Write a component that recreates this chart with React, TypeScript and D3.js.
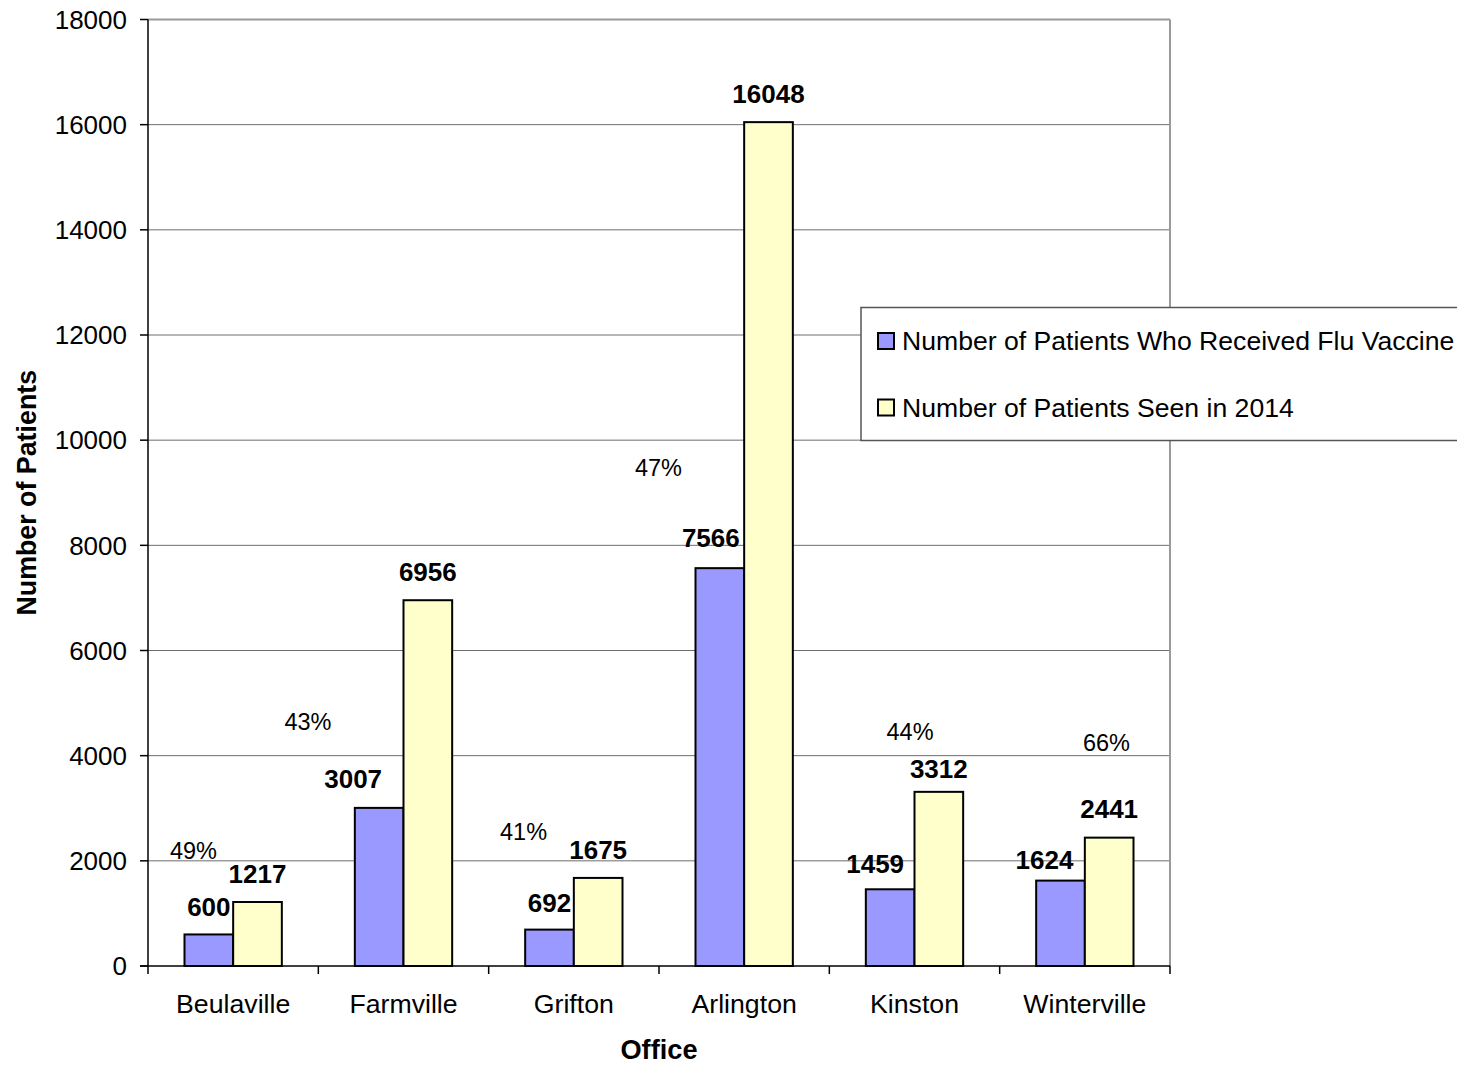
import React from "react";
import * as d3 from "d3";

const categories = ["Beulaville", "Farmville", "Grifton", "Arlington", "Kinston", "Winterville"];
const seriesNames = ["Number of Patients Who Received Flu Vaccine", "Number of Patients Seen in 2014"];
const vaccinated = [600, 3007, 692, 7566, 1459, 1624];
const seen = [1217, 6956, 1675, 16048, 3312, 2441];
const percentLabels = ["49%", "43%", "41%", "47%", "44%", "66%"];
const yTicks = [0, 2000, 4000, 6000, 8000, 10000, 12000, 14000, 16000, 18000];

// annotation placement (free text boxes in the original): offset in band units, y in data units
const percentBandOffset = [-0.233, -0.561, -0.295, -0.503, -0.026, 0.127];
const percentYValue = [2034, 4486, 2395, 9314, 4296, 4087];
// manual nudges of value labels in px [dx, dy]
const vaccLabelNudge = [[0, 1], [-26, -1], [0, 1], [-9, -2], [-15, 3], [-16, 7]];
const seenLabelNudge = [[0, 0], [0, 0], [0, 0], [0, 0], [0, 5], [0, -1]];

const colors = ["#9999FF", "#FFFFCC"];
const FONT = "'Liberation Sans', Arial, Helvetica, sans-serif";

export default function App() {
  const W = 1457, H = 1065;
  const left = 148, right = 1170, top = 19.5, bottom = 966;
  const y = d3.scaleLinear().domain([0, 18000]).range([bottom, top]);
  const x = d3.scaleBand<string>().domain(categories).range([left, right]).padding(0);
  const inner = d3.scaleBand<string>().domain(seriesNames).range([0, x.bandwidth()]).paddingInner(0).paddingOuter(0.75);
  const series = [vaccinated, seen];
  const nudges = [vaccLabelNudge, seenLabelNudge];

  return (
    <svg width={W} height={H} style={{ position: "absolute", left: 0, top: 0, background: "#fff" }} fontFamily={FONT}>
      <rect x={0} y={0} width={W} height={H} fill="#fff" />
      {/* gridlines */}
      {yTicks.filter(t => t > 0 && t < 18000).map(t => (
        <line key={t} x1={left} x2={right} y1={y(t)} y2={y(t)} stroke="#6e6e6e" strokeWidth={1} />
      ))}
      {/* plot border top/right */}
      <line x1={left} x2={right} y1={y(18000)} y2={y(18000)} stroke="#9a9a9a" strokeWidth={2} />
      <line x1={right} x2={right} y1={top} y2={bottom} stroke="#9a9a9a" strokeWidth={2} />
      {/* bars */}
      {series.map((vals, si) =>
        categories.map((c, ci) => {
          const bx = (x(c) as number) + (inner(seriesNames[si]) as number);
          const by = y(vals[ci]);
          return (
            <rect key={`${si}-${ci}`} x={bx} y={by} width={inner.bandwidth()} height={bottom - by}
              fill={colors[si]} stroke="#000" strokeWidth={2} />
          );
        })
      )}
      {/* axes */}
      <line x1={left} x2={left} y1={top} y2={bottom + 8} stroke="#000" strokeWidth={1.5} />
      <line x1={left - 8} x2={right} y1={bottom} y2={bottom} stroke="#000" strokeWidth={1.5} />
      {yTicks.map(t => (
        <g key={t}>
          <line x1={left - 8} x2={left} y1={y(t)} y2={y(t)} stroke="#000" strokeWidth={1.5} />
          <text x={127} y={y(t) + 9.3} fontSize={26} textAnchor="end" fill="#000">{t}</text>
        </g>
      ))}
      {categories.map((c) => (
        <line key={c} x1={(x(c) as number) + x.bandwidth()} x2={(x(c) as number) + x.bandwidth()}
          y1={bottom} y2={bottom + 8} stroke="#000" strokeWidth={1.5} />
      ))}
      {categories.map(c => (
        <text key={c} x={(x(c) as number) + x.bandwidth() / 2} y={1012.5} fontSize={26.7} textAnchor="middle" fill="#000">{c}</text>
      ))}
      {/* value labels */}
      {series.map((vals, si) =>
        categories.map((c, ci) => {
          const cx = (x(c) as number) + (inner(seriesNames[si]) as number) + inner.bandwidth() / 2;
          const [dx, dy] = nudges[si][ci];
          return (
            <text key={`l${si}-${ci}`} x={cx + dx} y={y(vals[ci]) - 19 + dy} fontSize={26} fontWeight="bold"
              textAnchor="middle" fill="#000">{vals[ci]}</text>
          );
        })
      )}
      {/* percent annotations */}
      {categories.map((c, ci) => (
        <text key={`p${ci}`} x={(x(c) as number) + x.bandwidth() * (0.5 + percentBandOffset[ci])} y={y(percentYValue[ci])}
          fontSize={23.5} textAnchor="middle" fill="#000">{percentLabels[ci]}</text>
      ))}
      {/* axis titles */}
      <text x={(left + right) / 2} y={1058.5} fontSize={27.2} fontWeight="bold" textAnchor="middle" fill="#000">Office</text>
      <text transform={`translate(36, ${(top + bottom) / 2}) rotate(-90)`} fontSize={26.8} fontWeight="bold" textAnchor="middle" fill="#000">Number of Patients</text>
      {/* legend */}
      <rect x={861} y={307.5} width={700} height={133} fill="#fff" stroke="#555" strokeWidth={1.5} />
      {seriesNames.map((s, i) => (
        <g key={s}>
          <rect x={878} y={333 + i * 66.5} width={16} height={16} fill={colors[i]} stroke="#000" strokeWidth={2} />
          <text x={902} y={350 + i * 66.5} fontSize={26.6} fill="#000">{s}</text>
        </g>
      ))}
    </svg>
  );
}
